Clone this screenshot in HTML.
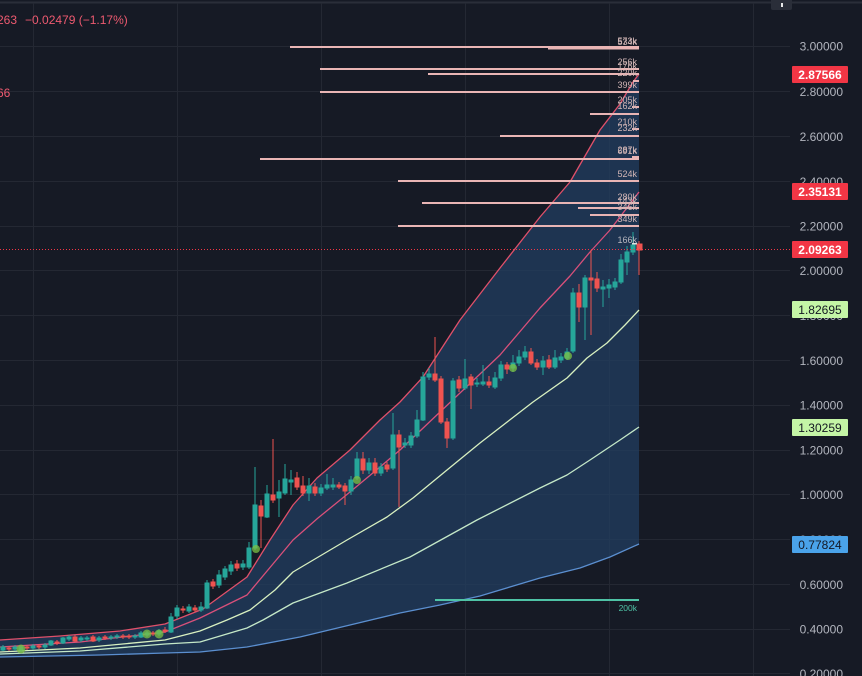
<!DOCTYPE html>
<html><head><meta charset="utf-8"><style>
html,body{margin:0;padding:0;background:#161a25;}
svg{display:block;font-family:"Liberation Sans",sans-serif;}
</style></head><body>
<svg width="862" height="676" viewBox="0 0 862 676" xmlns="http://www.w3.org/2000/svg">
<rect width="862" height="676" fill="#161a25"/>
<line x1="0" y1="2.5" x2="862" y2="2.5" stroke="#2a2e39" stroke-width="2"/>
<g stroke="#242833" stroke-width="1">
<line x1="33.5" y1="3" x2="33.5" y2="676"/><line x1="177.5" y1="3" x2="177.5" y2="676"/><line x1="321.5" y1="3" x2="321.5" y2="676"/><line x1="465.5" y1="3" x2="465.5" y2="676"/><line x1="609.5" y1="3" x2="609.5" y2="676"/><line x1="753.5" y1="3" x2="753.5" y2="676"/>
<line x1="0" y1="46.5" x2="790" y2="46.5"/><line x1="0" y1="91.5" x2="790" y2="91.5"/><line x1="0" y1="136.5" x2="790" y2="136.5"/><line x1="0" y1="181.5" x2="790" y2="181.5"/><line x1="0" y1="226.5" x2="790" y2="226.5"/><line x1="0" y1="270.5" x2="790" y2="270.5"/><line x1="0" y1="315.5" x2="790" y2="315.5"/><line x1="0" y1="360.5" x2="790" y2="360.5"/><line x1="0" y1="405.5" x2="790" y2="405.5"/><line x1="0" y1="450.5" x2="790" y2="450.5"/><line x1="0" y1="494.5" x2="790" y2="494.5"/><line x1="0" y1="539.5" x2="790" y2="539.5"/><line x1="0" y1="584.5" x2="790" y2="584.5"/><line x1="0" y1="629.5" x2="790" y2="629.5"/><line x1="0" y1="673.5" x2="790" y2="673.5"/>
</g>
<path d="M0,640 L60,636 L120,631 L165,624 L203,609 L247,577 L270,540 L293,505 L317,478 L350,450 L380,420 L400,402 L423,377 L460,320 L500,268 L540,217 L570,182 L600,130 L620,104 L633,82 L639,74 L639,544 L610,557 L580,568 L540,578 L480,596 L440,605 L400,613 L350,625 L300,637 L247,647 L200,652 L165,653 L100,655 L0,657 Z" fill="rgb(34,62,96)" fill-opacity="0.75"/>
<g fill="none" stroke-width="1.3" stroke-linejoin="round">
<polyline stroke="#e0506a" points="0,640 60,636 120,631 165,624 203,609 247,577 270,540 293,505 317,478 350,450 380,420 400,402 423,377 460,320 500,268 540,217 570,182 600,130 620,104 633,82 639,74"/>
<polyline stroke="#d9507a" points="0,647 80,642 165,632 200,618 247,595 293,540 318,518 350,492 380,467 400,450 440,412 500,355 540,308 570,276 590,252 610,230 639,192"/>
<polyline stroke="#d8f0c0" points="0,652 80,648 165,640 200,631 227,620 250,610 275,590 293,572 320,556 347,540 387,517 413,498 447,470 480,443 533,402 567,378 587,358 607,343 625,325 639,310"/>
<polyline stroke="#c4e8c8" points="0,654 80,651 165,644 200,642 247,628 263,620 293,603 347,583 410,557 477,520 540,488 567,475 590,460 620,440 639,427"/>
<polyline stroke="#5b8fd0" points="0,657 100,655 165,653 200,652 247,647 300,637 350,625 400,613 440,605 480,596 540,578 580,568 610,557 639,544"/>
</g>
<line x1="435" y1="600" x2="639" y2="600" stroke="#4fc3a6" stroke-width="2"/>
<text x="637" y="611" font-size="8.5" fill="#4fc3a6" text-anchor="end">200k</text>
<g stroke-width="1">
<g stroke="#26a69a" fill="#26a69a">
<line x1="3" y1="645" x2="3" y2="651"/><rect x="1" y="647" width="4" height="3"/>
<line x1="15" y1="645" x2="15" y2="651"/><rect x="13" y="647" width="4" height="2"/>
<line x1="21" y1="645" x2="21" y2="652"/><rect x="19" y="647" width="4" height="3"/>
<line x1="33" y1="644" x2="33" y2="650"/><rect x="31" y="646" width="4" height="2"/>
<line x1="45" y1="643" x2="45" y2="649"/><rect x="43" y="645" width="4" height="2"/>
<line x1="51" y1="640" x2="51" y2="646"/><rect x="49" y="641" width="4" height="4"/>
<line x1="63" y1="637" x2="63" y2="644"/><rect x="61" y="638" width="4" height="5"/>
<line x1="69" y1="635" x2="69" y2="641"/><rect x="67" y="637" width="4" height="2"/>
<line x1="81" y1="636" x2="81" y2="642"/><rect x="79" y="638" width="4" height="2"/>
<line x1="87" y1="636" x2="87" y2="641"/><rect x="85" y="638" width="4" height="1"/>
<line x1="99" y1="636" x2="99" y2="642"/><rect x="97" y="638" width="4" height="2"/>
<line x1="111" y1="635" x2="111" y2="640"/><rect x="109" y="637" width="4" height="1"/>
<line x1="117" y1="634" x2="117" y2="639"/><rect x="115" y="636" width="4" height="1"/>
<line x1="135" y1="634" x2="135" y2="639"/><rect x="133" y="636" width="4" height="1"/>
<line x1="141" y1="631" x2="141" y2="638"/><rect x="139" y="633" width="4" height="4"/>
<line x1="147" y1="631" x2="147" y2="637"/><rect x="145" y="633" width="4" height="2"/>
<line x1="159" y1="629" x2="159" y2="636"/><rect x="157" y="631" width="4" height="3"/>
<line x1="171" y1="613" x2="171" y2="633"/><rect x="169" y="617" width="4" height="15"/>
<line x1="177" y1="605" x2="177" y2="619"/><rect x="175" y="608" width="4" height="8"/>
<line x1="189" y1="604" x2="189" y2="613"/><rect x="187" y="607" width="4" height="4"/>
<line x1="201" y1="602" x2="201" y2="612"/><rect x="199" y="607" width="4" height="3"/>
<line x1="207" y1="580" x2="207" y2="609"/><rect x="205" y="583" width="4" height="25"/>
<line x1="219" y1="570" x2="219" y2="588"/><rect x="217" y="575" width="4" height="10"/>
<line x1="225" y1="566" x2="225" y2="580"/><rect x="223" y="569" width="4" height="8"/>
<line x1="231" y1="561" x2="231" y2="575"/><rect x="229" y="565" width="4" height="6"/>
<line x1="243" y1="560" x2="243" y2="570"/><rect x="241" y="564" width="4" height="3"/>
<line x1="249" y1="542" x2="249" y2="569"/><rect x="247" y="548" width="4" height="19"/>
<line x1="255" y1="467" x2="255" y2="550"/><rect x="253" y="505" width="4" height="43"/>
<line x1="267" y1="485" x2="267" y2="518"/><rect x="265" y="494" width="4" height="23"/>
<line x1="279" y1="480" x2="279" y2="517"/><rect x="277" y="492" width="4" height="6"/>
<line x1="285" y1="464" x2="285" y2="495"/><rect x="283" y="479" width="4" height="14"/>
<line x1="291" y1="470" x2="291" y2="495"/><rect x="289" y="480" width="4" height="2"/>
<line x1="309" y1="478" x2="309" y2="501"/><rect x="307" y="486" width="4" height="7"/>
<line x1="321" y1="484" x2="321" y2="496"/><rect x="319" y="488" width="4" height="5"/>
<line x1="327" y1="474" x2="327" y2="490"/><rect x="325" y="485" width="4" height="3"/>
<line x1="333" y1="478" x2="333" y2="490"/><rect x="331" y="485" width="4" height="2"/>
<line x1="351" y1="476" x2="351" y2="495"/><rect x="349" y="480" width="4" height="11"/>
<line x1="357" y1="452" x2="357" y2="480"/><rect x="355" y="459" width="4" height="19"/>
<line x1="369" y1="458" x2="369" y2="474"/><rect x="367" y="463" width="4" height="7"/>
<line x1="381" y1="463" x2="381" y2="476"/><rect x="379" y="467" width="4" height="6"/>
<line x1="393" y1="413" x2="393" y2="470"/><rect x="391" y="435" width="4" height="33"/>
<line x1="405" y1="438" x2="405" y2="448"/><rect x="403" y="443" width="4" height="2"/>
<line x1="411" y1="432" x2="411" y2="448"/><rect x="409" y="436" width="4" height="9"/>
<line x1="417" y1="410" x2="417" y2="438"/><rect x="415" y="420" width="4" height="16"/>
<line x1="423" y1="372" x2="423" y2="421"/><rect x="421" y="377" width="4" height="43"/>
<line x1="429" y1="368" x2="429" y2="380"/><rect x="427" y="374" width="4" height="3"/>
<line x1="453" y1="378" x2="453" y2="440"/><rect x="451" y="381" width="4" height="57"/>
<line x1="465" y1="359" x2="465" y2="390"/><rect x="463" y="379" width="4" height="9"/>
<line x1="477" y1="378" x2="477" y2="387"/><rect x="475" y="383" width="4" height="1"/>
<line x1="483" y1="365" x2="483" y2="386"/><rect x="481" y="382" width="4" height="2"/>
<line x1="495" y1="372" x2="495" y2="389"/><rect x="493" y="378" width="4" height="9"/>
<line x1="501" y1="361" x2="501" y2="381"/><rect x="499" y="365" width="4" height="13"/>
<line x1="513" y1="355" x2="513" y2="372"/><rect x="511" y="363" width="4" height="5"/>
<line x1="519" y1="350" x2="519" y2="366"/><rect x="517" y="357" width="4" height="6"/>
<line x1="525" y1="346" x2="525" y2="360"/><rect x="523" y="352" width="4" height="5"/>
<line x1="543" y1="356" x2="543" y2="375"/><rect x="541" y="361" width="4" height="6"/>
<line x1="555" y1="350" x2="555" y2="369"/><rect x="553" y="358" width="4" height="9"/>
<line x1="561" y1="353" x2="561" y2="363"/><rect x="559" y="357" width="4" height="3"/>
<line x1="567" y1="348" x2="567" y2="360"/><rect x="565" y="352" width="4" height="6"/>
<line x1="573" y1="288" x2="573" y2="353"/><rect x="571" y="293" width="4" height="58"/>
<line x1="585" y1="275" x2="585" y2="340"/><rect x="583" y="278" width="4" height="29"/>
<line x1="603" y1="280" x2="603" y2="307"/><rect x="601" y="287" width="4" height="2"/>
<line x1="609" y1="279" x2="609" y2="298"/><rect x="607" y="285" width="4" height="3"/>
<line x1="615" y1="278" x2="615" y2="290"/><rect x="613" y="282" width="4" height="5"/>
<line x1="621" y1="254" x2="621" y2="284"/><rect x="619" y="260" width="4" height="22"/>
<line x1="627" y1="246" x2="627" y2="275"/><rect x="625" y="252" width="4" height="10"/>
<line x1="633" y1="232" x2="633" y2="255"/><rect x="631" y="245" width="4" height="7"/>
</g>
<g stroke="#ef5350" fill="#ef5350">
<line x1="9" y1="646" x2="9" y2="651"/><rect x="7" y="648" width="4" height="1"/>
<line x1="27" y1="645" x2="27" y2="650"/><rect x="25" y="647" width="4" height="1"/>
<line x1="39" y1="644" x2="39" y2="649"/><rect x="37" y="646" width="4" height="1"/>
<line x1="57" y1="640" x2="57" y2="645"/><rect x="55" y="642" width="4" height="1"/>
<line x1="75" y1="635" x2="75" y2="642"/><rect x="73" y="637" width="4" height="4"/>
<line x1="93" y1="635" x2="93" y2="642"/><rect x="91" y="637" width="4" height="4"/>
<line x1="105" y1="635" x2="105" y2="640"/><rect x="103" y="637" width="4" height="1"/>
<line x1="123" y1="634" x2="123" y2="639"/><rect x="121" y="636" width="4" height="1"/>
<line x1="129" y1="634" x2="129" y2="639"/><rect x="127" y="636" width="4" height="1"/>
<line x1="153" y1="631" x2="153" y2="636"/><rect x="151" y="633" width="4" height="1"/>
<line x1="165" y1="627" x2="165" y2="633"/><rect x="163" y="630" width="4" height="1"/>
<line x1="183" y1="606" x2="183" y2="613"/><rect x="181" y="609" width="4" height="1"/>
<line x1="195" y1="605" x2="195" y2="612"/><rect x="193" y="608" width="4" height="2"/>
<line x1="213" y1="579" x2="213" y2="589"/><rect x="211" y="582" width="4" height="4"/>
<line x1="237" y1="560" x2="237" y2="571"/><rect x="235" y="564" width="4" height="4"/>
<line x1="261" y1="500" x2="261" y2="548"/><rect x="259" y="506" width="4" height="10"/>
<line x1="273" y1="439" x2="273" y2="503"/><rect x="271" y="495" width="4" height="5"/>
<line x1="297" y1="472" x2="297" y2="490"/><rect x="295" y="478" width="4" height="9"/>
<line x1="303" y1="476" x2="303" y2="496"/><rect x="301" y="486" width="4" height="7"/>
<line x1="315" y1="483" x2="315" y2="496"/><rect x="313" y="487" width="4" height="6"/>
<line x1="339" y1="482" x2="339" y2="489"/><rect x="337" y="485" width="4" height="2"/>
<line x1="345" y1="483" x2="345" y2="505"/><rect x="343" y="486" width="4" height="5"/>
<line x1="363" y1="452" x2="363" y2="474"/><rect x="361" y="459" width="4" height="11"/>
<line x1="375" y1="458" x2="375" y2="476"/><rect x="373" y="463" width="4" height="10"/>
<line x1="387" y1="462" x2="387" y2="472"/><rect x="385" y="465" width="4" height="4"/>
<line x1="399" y1="430" x2="399" y2="507"/><rect x="397" y="435" width="4" height="12"/>
<line x1="435" y1="337" x2="435" y2="382"/><rect x="433" y="374" width="4" height="6"/>
<line x1="441" y1="376" x2="441" y2="424"/><rect x="439" y="379" width="4" height="43"/>
<line x1="447" y1="418" x2="447" y2="448"/><rect x="445" y="422" width="4" height="16"/>
<line x1="459" y1="376" x2="459" y2="392"/><rect x="457" y="380" width="4" height="8"/>
<line x1="471" y1="374" x2="471" y2="409"/><rect x="469" y="377" width="4" height="8"/>
<line x1="489" y1="376" x2="489" y2="388"/><rect x="487" y="382" width="4" height="3"/>
<line x1="507" y1="362" x2="507" y2="374"/><rect x="505" y="365" width="4" height="4"/>
<line x1="531" y1="348" x2="531" y2="365"/><rect x="529" y="352" width="4" height="11"/>
<line x1="537" y1="359" x2="537" y2="370"/><rect x="535" y="363" width="4" height="4"/>
<line x1="549" y1="355" x2="549" y2="369"/><rect x="547" y="360" width="4" height="7"/>
<line x1="579" y1="284" x2="579" y2="322"/><rect x="577" y="293" width="4" height="14"/>
<line x1="591" y1="250" x2="591" y2="335"/><rect x="589" y="278" width="4" height="2"/>
<line x1="597" y1="272" x2="597" y2="292"/><rect x="595" y="279" width="4" height="9"/>
<line x1="639" y1="241" x2="639" y2="275"/><rect x="637" y="244" width="5" height="6"/>
</g>
</g>
<g fill="#7cc043" fill-opacity="0.75">
<circle cx="21" cy="649" r="4.5"/><circle cx="147" cy="634" r="4.5"/><circle cx="159" cy="634" r="4.5"/><circle cx="256" cy="549" r="4"/><circle cx="357" cy="480" r="4"/><circle cx="513" cy="368" r="4"/><circle cx="568" cy="356" r="4"/>
</g>
<g stroke="#e9b5b5" stroke-width="2">
<line x1="290" y1="47" x2="639" y2="47"/><line x1="548" y1="48.5" x2="639" y2="48.5"/>
<line x1="320" y1="69" x2="639" y2="69"/><line x1="428" y1="74" x2="639" y2="74"/>
<line x1="633" y1="81" x2="639" y2="81"/><line x1="320" y1="92" x2="639" y2="92"/>
<line x1="632" y1="107" x2="639" y2="107"/><line x1="590" y1="114" x2="639" y2="114"/>
<line x1="632" y1="129" x2="639" y2="129"/><line x1="500" y1="136" x2="639" y2="136"/>
<line x1="632" y1="157" x2="639" y2="157"/><line x1="260" y1="159" x2="639" y2="159"/>
<line x1="398" y1="181" x2="639" y2="181"/><line x1="422" y1="203" x2="639" y2="203"/>
<line x1="578" y1="208" x2="639" y2="208"/><line x1="590" y1="215" x2="639" y2="215"/>
<line x1="398" y1="226" x2="639" y2="226"/>
</g>
<g font-size="9" fill="#d2b6b6" text-anchor="end">
<text x="637" y="44">573k</text><text x="637" y="45">534k</text>
<text x="637" y="65">256k</text><text x="637" y="69">176k</text><text x="637" y="76">220k</text>
<text x="637" y="88">399k</text><text x="637" y="103">205k</text><text x="637" y="109">162k</text>
<text x="637" y="125">210k</text><text x="637" y="131">232k</text>
<text x="637" y="153">287k</text><text x="637" y="154">691k</text>
<text x="637" y="177">524k</text><text x="637" y="200">280k</text><text x="637" y="204">143k</text><text x="637" y="210">346k</text>
<text x="637" y="222">349k</text>
<text x="637" y="243" fill="#b8b8c0">166k</text>
</g>
<rect x="632" y="243" width="5" height="1.5" fill="#e0e0e0"/>
<line x1="0" y1="249.5" x2="792" y2="249.5" stroke="#f23645" stroke-width="1" stroke-dasharray="1 2"/>
<text x="-3" y="24" font-size="12" fill="#ee5a70">263</text>
<text x="25" y="24" font-size="12" fill="#ee5a70">−0.02479 (−1.17%)</text>
<text x="-3" y="97" font-size="12" fill="#ee5a70">66</text>
<rect x="771" y="-2" width="21" height="12" rx="2" fill="#2a2e39"/>
<rect x="781" y="3" width="2" height="4" fill="#e8e8e8"/>
<g font-size="12" fill="#b2b5be" text-anchor="end">
<text x="843" y="50.5">3.00000</text><text x="843" y="96">2.80000</text><text x="843" y="141">2.60000</text><text x="843" y="186">2.40000</text><text x="843" y="230.5">2.20000</text><text x="843" y="275">2.00000</text><text x="843" y="320">1.80000</text><text x="843" y="365">1.60000</text><text x="843" y="409.5">1.40000</text><text x="843" y="454.5">1.20000</text><text x="843" y="499">1.00000</text><text x="843" y="544">0.80000</text><text x="843" y="589">0.60000</text><text x="843" y="633.5">0.40000</text><text x="843" y="678">0.20000</text>
</g>
<rect x="792" y="66" width="56" height="17" rx="1" fill="#f23645"/>
<text x="820" y="79" font-size="12" font-weight="bold" fill="#ffffff" text-anchor="middle">2.87566</text>
<rect x="792" y="183" width="56" height="17" rx="1" fill="#f23645"/>
<text x="820" y="196" font-size="12" font-weight="bold" fill="#ffffff" text-anchor="middle">2.35131</text>
<rect x="792" y="241" width="56" height="17" rx="1" fill="#f23645"/>
<text x="820" y="254" font-size="12" font-weight="bold" fill="#ffffff" text-anchor="middle">2.09263</text>
<rect x="792" y="301" width="56" height="17" rx="1" fill="#c4f5a6"/>
<text x="820" y="314" font-size="12" fill="#131722" text-anchor="middle">1.82695</text>
<rect x="792" y="419" width="56" height="17" rx="1" fill="#c4f5a6"/>
<text x="820" y="432" font-size="12" fill="#131722" text-anchor="middle">1.30259</text>
<rect x="792" y="536" width="56" height="17" rx="1" fill="#4aa3ea"/>
<text x="820" y="549" font-size="12" fill="#131722" text-anchor="middle">0.77824</text>
</svg>
</body></html>
